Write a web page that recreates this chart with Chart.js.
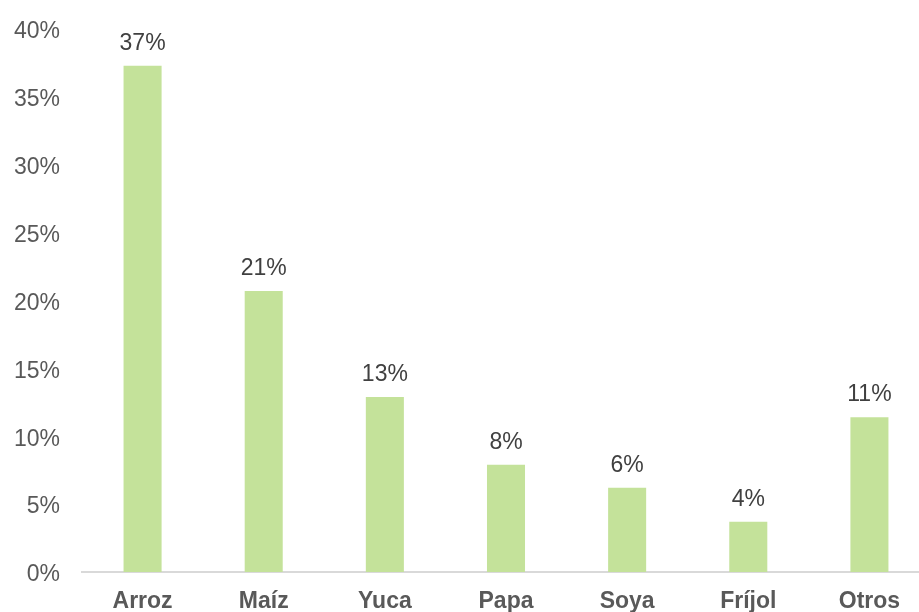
<!DOCTYPE html>
<html>
<head>
<meta charset="utf-8">
<script src="https://cdn.jsdelivr.net/npm/chart.js@4/dist/chart.umd.min.js"></script>
<style>
  html, body { margin: 0; padding: 0; background: #fff; overflow: hidden; }
</style>
</head>
<body>
<canvas id="chart" width="930" height="612"></canvas>
<script>
// Datos
const cultivos = ['Arroz', 'Maíz', 'Yuca', 'Papa', 'Soya', 'Fríjol', 'Otros'];
const participacion = [37.3, 20.7, 12.9, 7.9, 6.2, 3.7, 11.4];
const yTicks = [0, 5, 10, 15, 20, 25, 30, 35, 40];

const FONT = '"Liberation Sans", Arial, sans-serif';
const SIZE = 23;

// Etiquetas sobre las barras
const etiquetas = {
    id: 'etiquetas',
    afterDatasetsDraw(chart) {
        const ctx = chart.ctx;
        const meta = chart.getDatasetMeta(0);
        ctx.save();
        ctx.font = SIZE + 'px ' + FONT;
        ctx.fillStyle = '#404040';
        ctx.textAlign = 'center';
        ctx.textBaseline = 'alphabetic';
        meta.data.forEach((bar, i) => {
            ctx.fillText(Math.round(participacion[i]) + '%', bar.x, bar.y - 16);
        });
        ctx.restore();
    }
};

new Chart(document.getElementById('chart'), {
    type: 'bar',
    data: {
        labels: cultivos,
        datasets: [{
            data: participacion,
            backgroundColor: '#C4E29A',
            borderWidth: 0,
            categoryPercentage: 1,
            barPercentage: 0.314
        }]
    },
    options: {
        responsive: false,
        devicePixelRatio: 1,
        animation: false,
        layout: { padding: { top: 29, right: 0, bottom: 0, left: 0 } },
        plugins: {
            legend: { display: false },
            tooltip: { enabled: false }
        },
        scales: {
            x: {
                afterFit: s => { s.height = 40; },
                grid: { display: false, drawTicks: false },
                border: { display: true, color: '#d9d9d9', width: 2 },
                ticks: {
                    color: '#595959',
                    padding: 16,
                    font: { family: FONT, size: SIZE, weight: 'bold' }
                }
            },
            y: {
                min: 0,
                max: 40,
                afterFit: s => {
                    s.width = 82;
                    s.paddingTop = 0;
                    s.paddingBottom = 0;
                },
                afterBuildTicks: s => { s.ticks = yTicks.map(v => ({ value: v })); },
                grid: { display: false, drawTicks: false },
                border: { display: false },
                ticks: {
                    color: '#595959',
                    padding: 22,
                    labelOffset: 3,
                    font: { family: FONT, size: SIZE },
                    callback: v => v + '%'
                }
            }
        }
    },
    plugins: [etiquetas]
});
</script>
</body>
</html>
